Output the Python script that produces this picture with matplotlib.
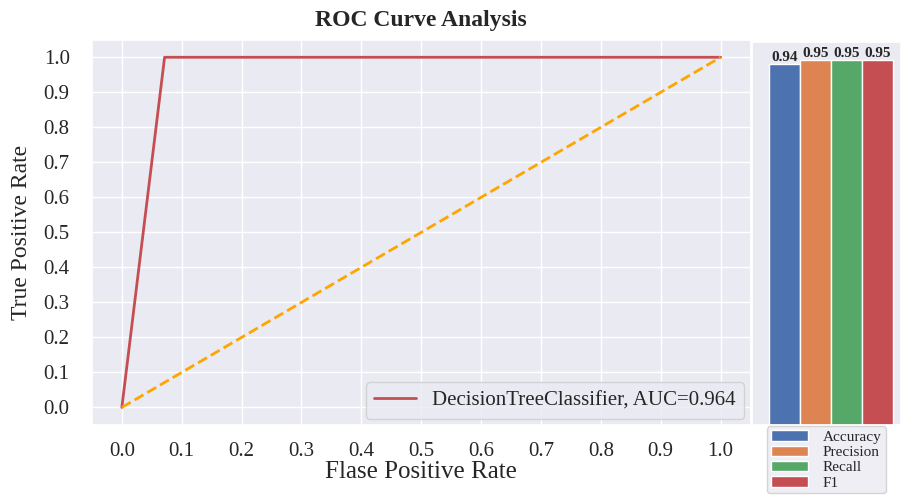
import matplotlib
matplotlib.use("Agg")
import matplotlib.pyplot as plt
import seaborn as sns

sns.set_theme(style="darkgrid", palette="deep")
plt.rcParams['font.family'] = ['Liberation Serif', 'DejaVu Serif']

fpr = [0.0, 0.0714, 1.0]
tpr = [0.0, 1.0, 1.0]
auc_value = 0.964
model_name = "DecisionTreeClassifier"
diag = [0.0, 1.0]
ticks = [0.0, 0.1, 0.2, 0.3, 0.4, 0.5, 0.6, 0.7, 0.8, 0.9, 1.0]

metric_names = ["Accuracy", "Precision", "Recall", "F1"]
metric_values = [0.94, 0.95, 0.95, 0.95]

deep = sns.color_palette("deep")

fig = plt.figure(figsize=(9.01, 4.97), dpi=100)
ax = fig.add_axes([0.102, 0.145, 0.731, 0.775])
ax.plot(fpr, tpr, color=deep[3], lw=2, label=f"{model_name}, AUC={auc_value}")
ax.plot(diag, diag, color="orange", lw=2, ls="--")
ax.set_xticks(ticks)
ax.set_yticks(ticks)
ax.tick_params(labelsize=15)
ax.tick_params(axis="x", pad=6)
ax.tick_params(axis="y", pad=10)
ax.set_xlabel("Flase Positive Rate", fontsize=18, labelpad=0)
ax.set_ylabel("True Positive Rate", fontsize=17, labelpad=8)
ax.set_title("ROC Curve Analysis", fontsize=17, fontweight="bold", pad=10)
ax.legend(loc="lower right", fontsize=15, borderaxespad=0.3)

ax2 = fig.add_axes([0.835, 0.145, 0.165, 0.77])
for i, (n, v) in enumerate(zip(metric_names, metric_values)):
    ax2.bar(i, v, width=1.0, color=deep[i], edgecolor="white", label=n)
    ax2.text(i, v, f"{v:.2f}", ha="center", va="bottom", fontsize=11, fontweight="bold")
ax2.set_xticks([])
ax2.set_yticks([])
ax2.set_xlim(-1.02, 3.75)
ax2.legend(loc="upper left", bbox_to_anchor=(0.09, 0.0), fontsize=11, ncol=1,
           frameon=True, borderaxespad=0.1, handlelength=2.4, labelspacing=0.1,
           borderpad=0.25, handletextpad=1.0)

fig.savefig("out.png", dpi=100)
